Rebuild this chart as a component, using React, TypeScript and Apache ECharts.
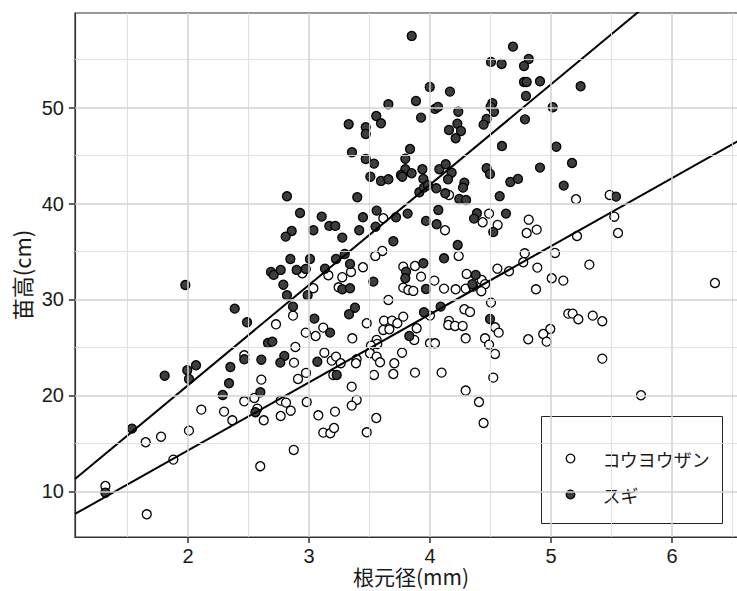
import React, { useEffect, useRef } from "react";
import * as echarts from "echarts";

// ---- data ----
const seriesNames = ["コウヨウザン", "スギ"];

const kouyouzan: number[][] = [
  [4.157, 40.9], [5.485, 40.9], [5.207, 40.45], [2.868, 28.31], [2.945, 32.73], [2.727, 27.41],
  [2.973, 26.54], [2.887, 25.05], [2.465, 24.18], [2.876, 23.41], [2.606, 21.64], [2.975, 22.34],
  [2.909, 21.71], [2.548, 19.73], [2.465, 19.38], [2.11, 18.51], [2.298, 18.3], [2.366, 17.4],
  [2.573, 18.61], [2.626, 17.4], [2.766, 19.45], [2.81, 19.24], [2.849, 18.4], [2.766, 17.85],
  [2.981, 19.31], [1.65, 15.11], [1.777, 15.69], [2.008, 16.32], [1.879, 13.3], [2.874, 14.31],
  [2.597, 12.61], [1.317, 10.55], [1.659, 7.6],
  [3.614, 38.47], [4.124, 37.22], [4.488, 38.95], [4.435, 38.05], [4.559, 37.77], [4.816, 38.32],
  [4.799, 36.93], [4.882, 37.28], [3.606, 35.06], [3.548, 34.54], [3.16, 32.52], [3.347, 32.87],
  [3.275, 32.32], [3.245, 31.27], [3.446, 33.36], [3.036, 31.17], [3.876, 33.49], [3.779, 33.42],
  [3.926, 32.38], [3.779, 31.23], [3.821, 30.99], [3.862, 30.89], [4.036, 31.96], [4.116, 31.13],
  [4.237, 34.54], [4.212, 31.06], [4.295, 31.13], [4.358, 31.34], [4.303, 32.66], [4.427, 32.03],
  [4.455, 31.59], [4.424, 30.86], [4.557, 33.21], [4.653, 32.94], [4.783, 34.81], [4.771, 33.88],
  [4.887, 33.32], [4.876, 31.06], [3.656, 29.95], [3.118, 27.06], [3.055, 26.19], [3.358, 25.95],
  [3.477, 27.52], [3.62, 27.79], [3.686, 27.79], [3.73, 27.52], [3.779, 28.21], [3.614, 26.82],
  [3.664, 26.89], [3.89, 27.0], [4.0, 28.31], [4.157, 27.76], [4.151, 27.34], [4.207, 27.24],
  [4.27, 27.24], [4.284, 28.98], [4.331, 28.7], [4.504, 29.67], [4.537, 27.1], [4.568, 26.54],
  [4.295, 25.95], [4.455, 25.95], [4.488, 25.29], [4.537, 24.32], [4.523, 21.85], [4.812, 25.85],
  [3.87, 25.78], [4.0, 25.43], [4.041, 25.43], [3.559, 25.78], [3.564, 25.36], [3.512, 25.18],
  [3.504, 24.39], [3.559, 24.04], [3.587, 23.45], [3.769, 24.45], [3.705, 23.35], [3.697, 22.23],
  [3.537, 22.13], [3.876, 22.37], [4.096, 22.37], [3.394, 23.76], [3.388, 23.35], [3.353, 20.91],
  [3.201, 22.13], [3.127, 24.45], [3.188, 23.62], [3.223, 24.04], [3.262, 23.35], [4.295, 20.5],
  [5.523, 38.63], [5.554, 36.93], [5.215, 36.62], [5.033, 34.85], [5.317, 33.63], [5.006, 32.21],
  [5.102, 31.96], [6.355, 31.72], [5.143, 28.52], [5.179, 28.52], [5.226, 27.94], [5.345, 28.31],
  [5.424, 27.73], [4.994, 26.92], [4.936, 26.4], [4.964, 25.6], [5.424, 23.83],
  [3.077, 17.92], [3.215, 18.3], [3.394, 19.52], [3.353, 18.93], [3.118, 16.11], [3.176, 16.05],
  [3.207, 16.6], [3.477, 16.15], [3.556, 17.64], [4.405, 19.31], [4.443, 17.12], [5.744, 20.01],
];

const sugi: number[][] = [
  [3.849, 57.48], [3.328, 48.27], [3.469, 47.96], [3.469, 47.26], [3.556, 49.13], [3.595, 48.37],
  [3.656, 50.35], [3.884, 50.7], [3.998, 52.16], [4.165, 51.67], [3.926, 48.96], [4.041, 49.87],
  [4.066, 50.08], [4.234, 49.58], [4.226, 48.33], [4.157, 47.67], [4.256, 47.57], [4.212, 46.81],
  [3.355, 45.35], [3.469, 44.65], [3.537, 44.16], [3.835, 45.69], [3.796, 44.68], [3.796, 43.58],
  [3.848, 43.16], [3.76, 42.98], [3.771, 42.8], [3.507, 42.8], [3.595, 42.36], [3.656, 42.53],
  [3.937, 43.58], [3.945, 42.57], [4.077, 43.58], [4.13, 44.1], [4.179, 43.22], [4.149, 42.53],
  [4.284, 42.18], [4.273, 41.66], [3.399, 40.66], [3.912, 41.18], [3.95, 41.66], [3.983, 41.91],
  [4.052, 41.59], [4.126, 41.07], [4.242, 40.48], [4.298, 40.37], [4.504, 54.77], [4.592, 54.56],
  [4.686, 56.36], [4.816, 55.08], [4.777, 54.35], [4.777, 52.68], [4.799, 52.68], [4.909, 52.75],
  [4.793, 51.22], [4.515, 50.46], [4.501, 50.1], [4.529, 49.58], [4.468, 48.82], [4.443, 48.23],
  [4.785, 48.78], [4.595, 46.0], [4.909, 43.75], [4.468, 43.68], [4.496, 43.09], [4.664, 42.25],
  [4.727, 42.57], [4.576, 40.77],
  [5.245, 52.23], [5.014, 50.04], [5.044, 45.93], [5.174, 44.23], [5.105, 41.87], [5.537, 40.72],
  [2.818, 40.76], [2.926, 39.02], [2.857, 37.14], [2.807, 36.55], [2.846, 34.22], [3.008, 34.22],
  [2.686, 32.87], [2.708, 32.56], [2.766, 33.08], [2.898, 33.08], [2.973, 33.18], [2.788, 31.54],
  [2.818, 30.44], [2.989, 30.44], [2.868, 29.25], [1.978, 31.51], [2.386, 29.04], [2.488, 27.62],
  [2.661, 25.46], [2.697, 25.6], [2.465, 23.76], [2.606, 23.72], [2.796, 24.11], [2.763, 23.41],
  [2.35, 22.96], [2.066, 23.14], [1.994, 22.62], [2.008, 21.71], [1.807, 22.05], [2.339, 21.26],
  [2.287, 20.04], [2.598, 20.32], [2.557, 18.24], [1.537, 16.53], [1.317, 9.85],
  [3.105, 38.64], [3.036, 37.22], [3.168, 37.67], [3.217, 37.67], [3.275, 36.45], [3.446, 38.57],
  [3.559, 39.26], [3.55, 37.59], [3.415, 37.22], [3.719, 38.57], [3.815, 38.95], [3.967, 38.19],
  [4.069, 39.33], [4.055, 37.84], [4.388, 38.99], [4.364, 38.43], [4.628, 38.95], [4.523, 37.04],
  [3.697, 36.07], [3.295, 34.74], [3.223, 34.22], [3.132, 33.21], [3.339, 33.7], [3.275, 31.06],
  [3.339, 31.17], [3.532, 31.86], [3.945, 33.77], [3.802, 32.9], [3.796, 32.21], [3.967, 31.09],
  [4.116, 34.29], [4.229, 35.68], [4.378, 32.56], [4.35, 31.59], [3.38, 29.14], [3.331, 28.46],
  [3.044, 28.0], [3.174, 26.54], [3.95, 28.67], [4.088, 29.25], [4.496, 27.97], [3.829, 26.19],
  [3.229, 22.13], [3.069, 23.51],
];

// fitted regression lines (slope, intercept)
const kouyouFit = { slope: 7.098, intercept: 0.064 };
const sugiFit = { slope: 10.46, intercept: 0.13 };

const xTicks = [2, 3, 4, 5, 6];
const yTicks = [10, 20, 30, 40, 50];
const xMinorGrid = [1.5, 2.5, 3.5, 4.5, 5.5, 6.5];
const yMinorGrid = [15, 25, 35, 45, 55];

const X_MIN = 1.066;
const X_MAX = 6.62;
const Y_MIN = 5.23;
const Y_MAX = 59.87;

const FONT = '"Noto Sans CJK JP", "Noto Sans", sans-serif';
const NUM_FONT = '"Liberation Sans", Arial, sans-serif';
const SUGI_FILL = "#3d3d3d";

export default function App() {
  const ref = useRef<HTMLDivElement>(null);

  useEffect(() => {
    if (!ref.current) return;
    const chart = echarts.init(ref.current, undefined, { renderer: "svg" });

    const fitLine = (f: { slope: number; intercept: number }) => [
      [X_MIN, f.slope * X_MIN + f.intercept],
      [X_MAX, f.slope * X_MAX + f.intercept],
    ];

    const minorStyle = { color: "#dedede", width: 0.9, type: "solid" };
    const majorStyle = { color: "#d2d2d2", width: 1.5, type: "solid" };
    const gridLines = [
      ...xMinorGrid.map((v) => ({ xAxis: v, lineStyle: minorStyle })),
      ...yMinorGrid.map((v) => ({ yAxis: v, lineStyle: minorStyle })),
      ...xTicks.map((v) => ({ xAxis: v, lineStyle: majorStyle })),
      ...yTicks.map((v) => ({ yAxis: v, lineStyle: majorStyle })),
    ];

    chart.setOption({
      animation: false,
      backgroundColor: "#ffffff",
      grid: {
        left: 75,
        right: -10,
        top: 13,
        bottom: 54,
        containLabel: false,
        outerBoundsMode: "none",
        show: true,
        borderColor: "#333333",
        borderWidth: 1.2,
        backgroundColor: "#ffffff",
      },
      xAxis: {
        type: "value",
        min: X_MIN,
        max: X_MAX,
        name: "根元径(mm)",
        nameLocation: "middle",
        nameGap: 28,
        nameMoveOverlap: false,
        nameTextStyle: { fontFamily: FONT, fontSize: 21, lineHeight: 22, color: "#1a1a1a" },
        axisLine: { show: true, lineStyle: { color: "#333333", width: 1.2 } },
        axisTick: {
          show: true,
          length: 6,
          customValues: xTicks,
          lineStyle: { color: "#333333", width: 1.5 },
        },
        axisLabel: {
          customValues: xTicks,
          fontFamily: NUM_FONT,
          fontSize: 20,
          lineHeight: 18,
          color: "#1a1a1a",
          margin: 10,
        },
        splitLine: { show: false },
      },
      yAxis: {
        type: "value",
        min: Y_MIN,
        max: Y_MAX,
        name: "苗高(cm)",
        nameLocation: "middle",
        nameGap: 43,
        nameMoveOverlap: false,
        nameTextStyle: { fontFamily: FONT, fontSize: 22, color: "#1a1a1a" },
        axisLine: { show: true, lineStyle: { color: "#333333", width: 1.2 } },
        axisTick: {
          show: true,
          length: 6,
          customValues: yTicks,
          lineStyle: { color: "#333333", width: 1.5 },
        },
        axisLabel: {
          customValues: yTicks,
          fontFamily: NUM_FONT,
          fontSize: 20,
          color: "#1a1a1a",
          margin: 11,
        },
        splitLine: { show: false },
      },
      series: [
        {
          type: "line",
          name: "grid",
          data: [],
          z: 0,
          silent: true,
          markLine: {
            silent: true,
            symbol: ["none", "none"],
            label: { show: false },
            animation: false,
            emphasis: { disabled: true },
            lineStyle: { type: "solid" },
            data: gridLines,
          },
        },
        {
          type: "scatter",
          name: seriesNames[0],
          data: kouyouzan,
          symbol: "circle",
          symbolSize: 9,
          z: 2,
          itemStyle: { color: "#ffffff", borderColor: "#000000", borderWidth: 1.3, opacity: 1 },
        },
        {
          type: "scatter",
          name: seriesNames[1],
          data: sugi,
          symbol: "circle",
          symbolSize: 9,
          z: 3,
          itemStyle: { color: SUGI_FILL, borderColor: "#000000", borderWidth: 1.3, opacity: 1 },
        },
        {
          type: "line",
          name: "fit-kouyou",
          data: fitLine(kouyouFit),
          showSymbol: false,
          symbol: "none",
          z: 4,
          clip: true,
          lineStyle: { color: "#000000", width: 2 },
        },
        {
          type: "line",
          name: "fit-sugi",
          data: fitLine(sugiFit),
          showSymbol: false,
          symbol: "none",
          z: 4,
          clip: true,
          lineStyle: { color: "#000000", width: 2 },
        },
      ],
      graphic: [
        {
          type: "group",
          left: 541,
          top: 416,
          z: 100,
          children: [
            {
              type: "rect",
              shape: { x: 0, y: 0, width: 181, height: 107 },
              style: { fill: "#ffffff", stroke: "#222222", lineWidth: 1 },
            },
            {
              type: "circle",
              shape: { cx: 29, cy: 42, r: 4.3 },
              style: { fill: "#ffffff", stroke: "#000000", lineWidth: 1.3 },
            },
            {
              type: "circle",
              shape: { cx: 29, cy: 78, r: 4.3 },
              style: { fill: SUGI_FILL, stroke: "#000000", lineWidth: 1.3 },
            },
            {
              type: "text",
              x: 61,
              y: 42,
              style: {
                text: seriesNames[0],
                fontFamily: FONT,
                fontSize: 18,
                fill: "#1a1a1a",
                verticalAlign: "middle",
                align: "left",
              },
            },
            {
              type: "text",
              x: 61,
              y: 78,
              style: {
                text: seriesNames[1],
                fontFamily: FONT,
                fontSize: 18,
                fill: "#1a1a1a",
                verticalAlign: "middle",
                align: "left",
              },
            },
          ],
        },
      ],
    });

    return () => chart.dispose();
  }, []);

  return (
    <div
      ref={ref}
      style={{ position: "fixed", left: 0, top: 0, width: 737, height: 591, background: "#fff" }}
    />
  );
}
